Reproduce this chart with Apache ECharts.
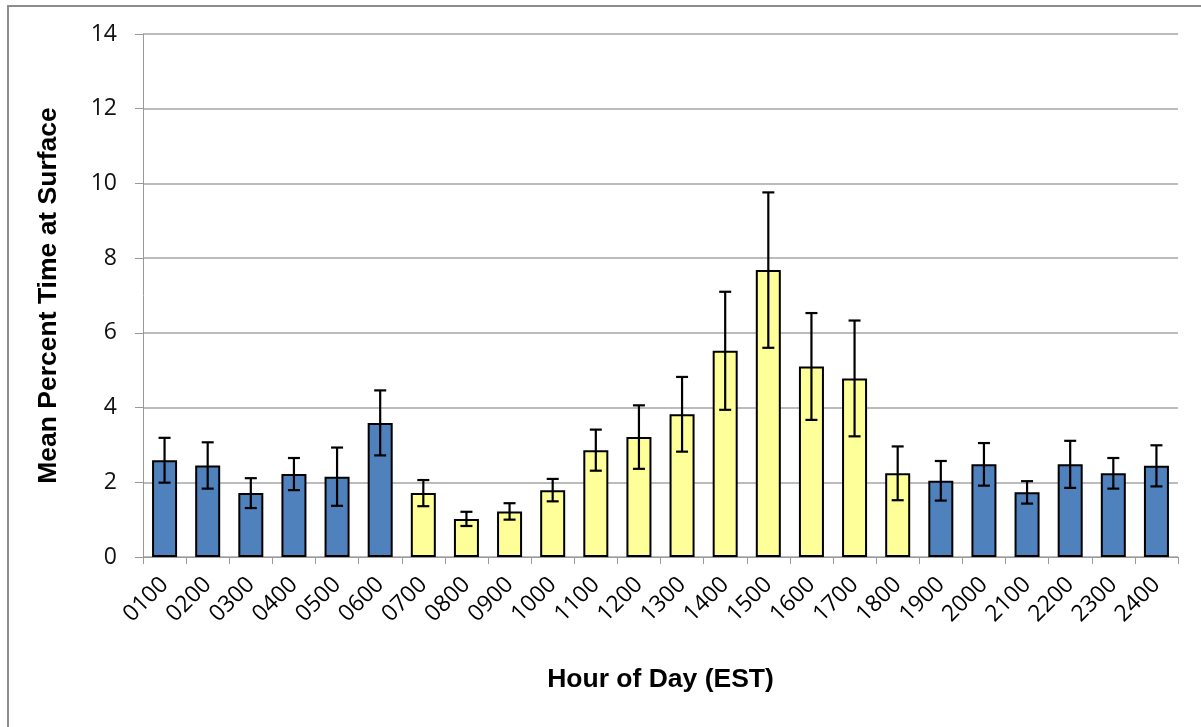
<!DOCTYPE html>
<html>
<head>
<meta charset="utf-8">
<script src="https://cdn.jsdelivr.net/npm/echarts@6/dist/echarts.min.js"></script>
<style>
  html, body { margin: 0; padding: 0; background: #fff; }
  #main { width: 1201px; height: 727px; }
</style>
</head>
<body>
<div id="main"></div>
<script>
// hours of day (EST)
var hours = ['0100','0200','0300','0400','0500','0600','0700','0800','0900','1000','1100','1200',
             '1300','1400','1500','1600','1700','1800','1900','2000','2100','2200','2300','2400'];
// mean percent time at surface
var means = [2.59, 2.45, 1.71, 2.22, 2.15, 3.59, 1.71, 1.02, 1.22, 1.79, 2.86, 3.21,
             3.82, 5.52, 7.68, 5.10, 4.78, 2.24, 2.04, 2.48, 1.73, 2.48, 2.24, 2.44];
// error (+/-)
var errs  = [0.60, 0.62, 0.40, 0.43, 0.78, 0.87, 0.35, 0.19, 0.22, 0.30, 0.55, 0.85,
             1.00, 1.58, 2.08, 1.43, 1.55, 0.72, 0.53, 0.57, 0.30, 0.63, 0.41, 0.55];
// daylight hours shown in yellow
var dayHours = ['0700','0800','0900','1000','1100','1200','1300','1400','1500','1600','1700','1800'];
var yTicks = [0, 2, 4, 6, 8, 10, 12, 14];

var dom = document.getElementById('main');
var myChart = echarts.init(dom, null, { renderer: 'canvas' });

var errData = means.map(function (m, i) { return [i, m - errs[i], m + errs[i]]; });

var option = {
  animation: false,
  backgroundColor: '#fff',
  graphic: [{
    type: 'rect',
    shape: { x: 8, y: 6, width: 1220, height: 760 },
    style: { fill: 'none', stroke: '#8c8c8c', lineWidth: 2 },
    silent: true
  }],
  grid: {
    left: 143,
    right: 23,
    top: 34,
    bottom: 170
  },
  xAxis: {
    type: 'category',
    data: hours,
    name: 'Hour of Day (EST)',
    nameLocation: 'middle',
    nameGap: 109,
    nameTextStyle: { fontFamily: 'Liberation Sans', fontWeight: 'bold', fontSize: 26.5, color: '#000' },
    axisLine: { lineStyle: { color: '#9a9a9a', width: 1 } },
    axisTick: { show: true, length: 7, alignWithLabel: false, lineStyle: { color: '#9a9a9a' } },
    axisLabel: {
      rotate: 45,
      margin: 24,
      fontFamily: 'Open Sans',
      fontSize: 23,
      color: '#000',
      interval: 0
    }
  },
  yAxis: {
    type: 'value',
    min: 0,
    max: 14,
    interval: 2,
    name: 'Mean Percent Time at Surface',
    nameLocation: 'middle',
    nameGap: 81,
    nameTextStyle: { fontFamily: 'Liberation Sans', fontWeight: 'bold', fontSize: 26.5, color: '#000' },
    axisLine: { show: true, lineStyle: { color: '#9a9a9a', width: 1 } },
    axisTick: { show: true, length: 8, lineStyle: { color: '#9a9a9a' } },
    axisLabel: {
      margin: 26,
      fontFamily: 'Open Sans',
      fontSize: 23,
      color: '#111',
      formatter: function (v) { return yTicks.indexOf(v) >= 0 ? String(v) : ''; }
    },
    splitLine: { lineStyle: { color: '#a6a6a6', width: 1.5 } }
  },
  series: [{
    type: 'bar',
    data: means,
    barWidth: '58%',
    itemStyle: {
      color: function (p) { return dayHours.indexOf(hours[p.dataIndex]) >= 0 ? '#FFFF99' : '#4F81BD'; },
      borderColor: '#000',
      borderWidth: 2
    }
  }, {
    type: 'custom',
    data: errData,
    z: 10,
    renderItem: function (params, api) {
      var x = api.value(0);
      var lo = api.coord([x, api.value(1)]);
      var hi = api.coord([x, api.value(2)]);
      var cap = 6;
      var st = { stroke: '#000', lineWidth: 2.2 };
      return {
        type: 'group',
        children: [
          { type: 'line', shape: { x1: hi[0], y1: hi[1], x2: lo[0], y2: lo[1] }, style: st },
          { type: 'line', shape: { x1: hi[0] - cap, y1: hi[1], x2: hi[0] + cap, y2: hi[1] }, style: st },
          { type: 'line', shape: { x1: lo[0] - cap, y1: lo[1], x2: lo[0] + cap, y2: lo[1] }, style: st }
        ]
      };
    }
  }]
};

if (option && typeof option === 'object') {
  myChart.setOption(option);
}
window.addEventListener('resize', myChart.resize);
</script>
</body>
</html>
